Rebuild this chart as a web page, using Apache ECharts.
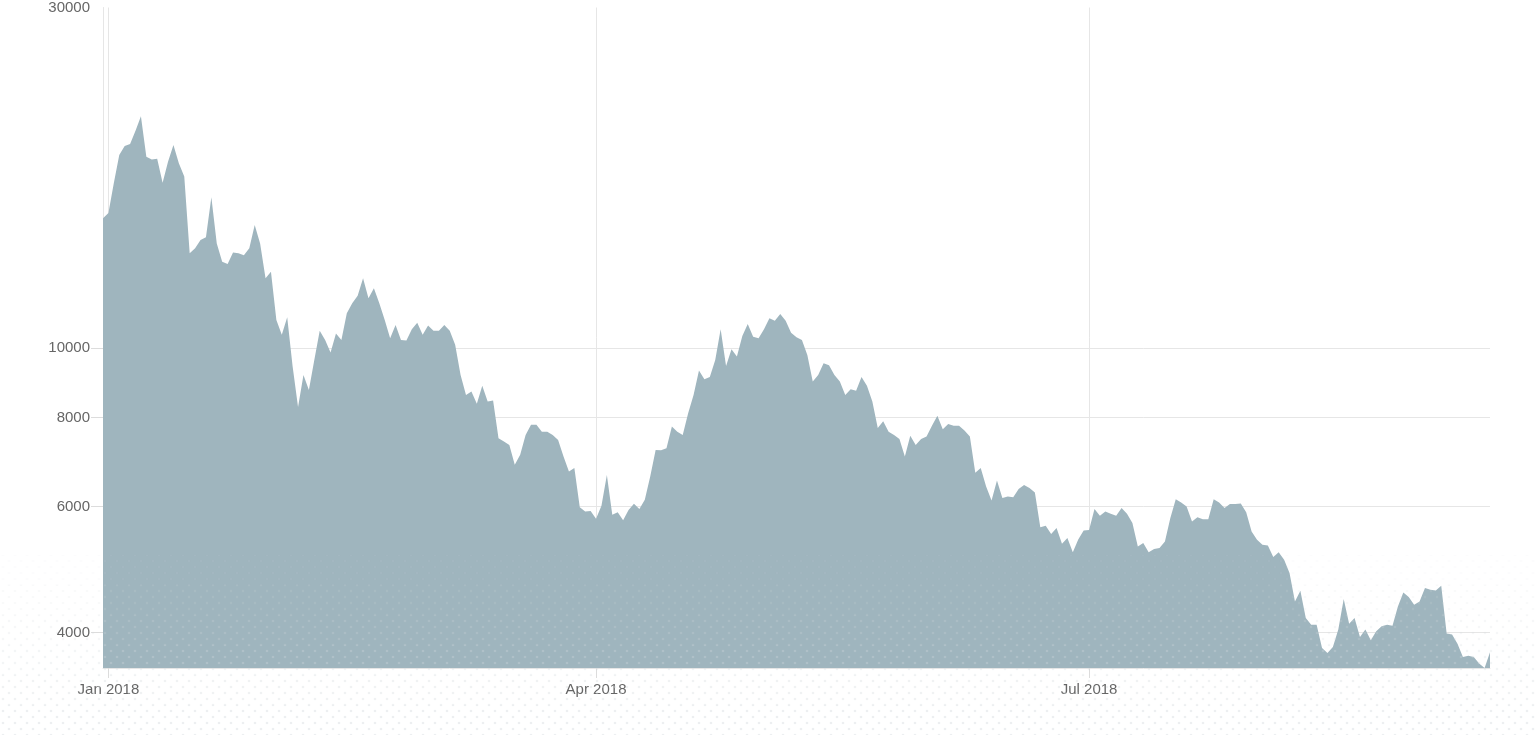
<!DOCTYPE html>
<html>
<head>
<meta charset="utf-8">
<script src="https://cdn.jsdelivr.net/npm/echarts@6/dist/echarts.min.js"></script>
<style>
html,body{margin:0;padding:0;background:#fff;}
#chart{width:1537px;height:735px;}
</style>
</head>
<body>
<div id="chart"></div>
<script>
// Daily series starting 2017-12-31
const startDate = '2017-12-31';
const values = [
15210,15460,17030,18640,19190,19320,20160,21130,18540,18380,
18420,17050,18240,19250,18150,17390,13580,13800,14170,14300,
16270,14020,13220,13120,13610,13580,13490,13800,14880,14020,
12530,12800,10950,10440,11050,9425,8270,9175,8740,9630,
10580,10270,9860,10490,10270,11190,11560,11840,12530,11750,
12130,11560,10950,10330,10780,10270,10250,10630,10860,10440,
10760,10580,10580,10780,10580,10110,9175,8600,8695,8360,
8860,8420,8450,7480,7400,7320,6870,7090,7560,7810,
7810,7640,7640,7560,7440,7050,6720,6795,5990,5905,
5915,5770,6015,6645,5845,5890,5740,5937,6055,5955,
6135,6610,7205,7195,7245,7770,7640,7560,8110,8600,
9305,9050,9110,9630,10630,9445,9970,9735,10400,10815,
10380,10330,10630,11015,10930,11170,10930,10515,10360,10270,
9785,8980,9175,9528,9467,9175,8980,8600,8760,8720,
9110,8860,8420,7730,7900,7640,7560,7460,7050,7540,
7320,7460,7520,7785,8040,7700,7835,7790,7785,7667,
7520,6695,6795,6400,6120,6530,6170,6200,6185,6350,
6435,6370,6280,5615,5640,5495,5600,5325,5425,5180,
5395,5555,5565,5955,5825,5905,5862,5825,5975,5862,
5690,5278,5336,5180,5235,5252,5364,5782,6147,6081,
6003,5720,5800,5763,5763,6147,6081,5975,6050,6050,
6060,5890,5537,5392,5306,5294,5101,5180,5057,4845,
4420,4575,4190,4101,4101,3803,3743,3815,4036,4454,
4114,4190,3942,4036,3899,4014,4079,4101,4088,4348,
4550,4483,4373,4418,4616,4590,4579,4650,3985,3972,
3857,3695,3710,3695,3617,3566,3751
];
const yLabelTicks = [4000, 6000, 8000, 10000, 30000];
const yLineTicks = [4000, 6000, 8000, 10000];
const xTickDates = ['2018-01-01', '2018-04-01', '2018-07-01'];
const xTickLabels = ['Jan 2018', 'Apr 2018', 'Jul 2018'];
const yMax = 30000;

// build daily date categories
const dates = [];
(function(){
  const d0 = new Date(startDate + 'T00:00:00Z');
  for (let i = 0; i < values.length; i++) {
    const d = new Date(d0.getTime() + i * 86400000);
    dates.push(d.toISOString().slice(0, 10));
  }
})();

// decorative dotted texture tile
function makeDotTile() {
  const c = document.createElement('canvas');
  c.width = 12; c.height = 12;
  const g = c.getContext('2d');
  g.fillStyle = 'rgb(214,219,222)';
  [[3, 3], [9, 9]].forEach(p => {
    g.beginPath(); g.arc(p[0], p[1], 1.3, 0, Math.PI * 2); g.fill();
  });
  return c;
}
const tile = makeDotTile();
const bands = [];
const bandTop = 555, bandH = 30, nBands = 6;
for (let b = 0; b < nBands; b++) {
  bands.push({
    type: 'rect',
    silent: true,
    z: 100,
    shape: {x: 0, y: bandTop + b * bandH, width: 1537, height: bandH},
    style: {fill: {image: tile, repeat: 'repeat'}, opacity: 0.08 + b * 0.07}
  });
}

const isTick = (idx, val) => xTickDates.indexOf(val) >= 0;
const gridColor = '#e6e6e6';
const font = 'Helvetica, Arial, sans-serif';

const chart = echarts.init(document.getElementById('chart'), null, {renderer: 'canvas'});
chart.setOption({
  animation: false,
  backgroundColor: '#ffffff',
  grid: {left: 103, right: 47, top: 7, bottom: 67, containLabel: false},
  graphic: bands,
  xAxis: {
    type: 'category',
    data: dates,
    boundaryGap: false,
    axisLine: {show: true, lineStyle: {color: gridColor, width: 1}},
    axisTick: {show: true, interval: isTick, length: 10, lineStyle: {color: '#dcdcdc'}},
    axisLabel: {
      interval: isTick,
      color: '#666',
      fontSize: 15,
      fontFamily: font,
      margin: 14,
      formatter: v => xTickLabels[xTickDates.indexOf(v)] || ''
    },
    splitLine: {show: true, interval: isTick, lineStyle: {color: gridColor, width: 1}}
  },
  yAxis: {
    type: 'log',
    logBase: 10,
    min: Math.min.apply(null, values),
    max: yMax,
    axisLine: {show: true, lineStyle: {color: gridColor, width: 1}},
    axisTick: {show: true, length: 12, customValues: yLineTicks, lineStyle: {color: '#dcdcdc'}},
    axisLabel: {
      customValues: yLabelTicks,
      color: '#666',
      fontSize: 15,
      fontFamily: font,
      margin: 13,
      formatter: v => String(Math.round(v))
    },
    splitLine: {show: true, lineStyle: {color: gridColor, width: 1}}
  },
  series: [{
    type: 'line',
    data: values,
    symbol: 'none',
    lineStyle: {width: 0},
    areaStyle: {color: '#9fb5be', opacity: 1},
    itemStyle: {color: '#9fb5be'}
  }]
});
</script>
</body>
</html>
